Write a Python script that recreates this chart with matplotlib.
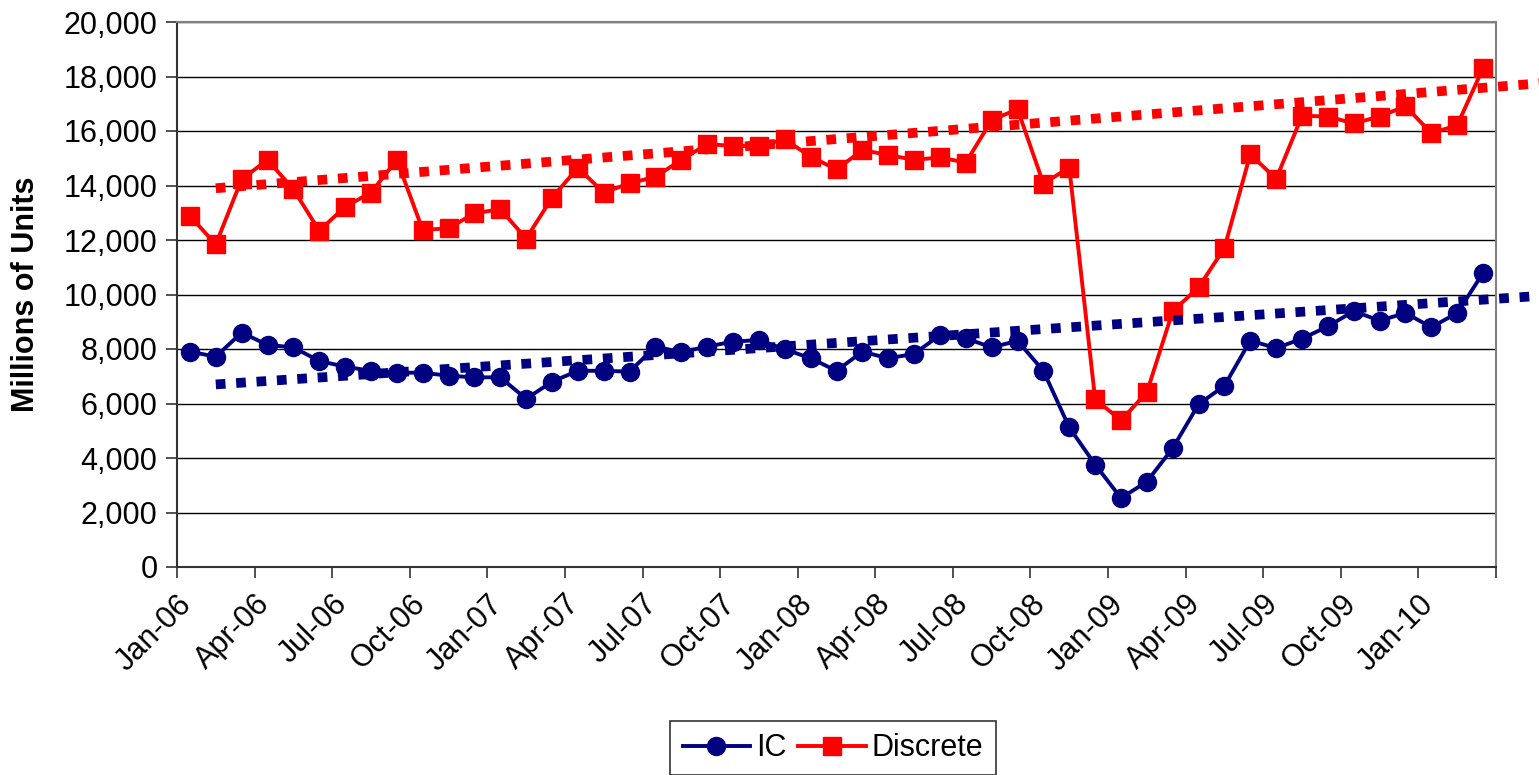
import numpy as np
import pandas as pd
import matplotlib
matplotlib.use("Agg")
import matplotlib.pyplot as plt
from matplotlib.ticker import FuncFormatter

plt.rcParams['font.family'] = ['Liberation Sans', 'DejaVu Sans']

# monthly unit shipments, Jan-06 .. Mar-10 (millions of units)
months = pd.date_range("2006-01-01", periods=51, freq="MS")

ic = [7900, 7720, 8600, 8150, 8060, 7560, 7350, 7200, 7130, 7130, 7020, 6960,
      6960, 6170, 6800, 7200, 7200, 7170, 8090, 7880, 8090, 8270, 8330, 7990,
      7660, 7200, 7900, 7660, 7820, 8510, 8390, 8060, 8300, 7200, 5120, 3760,
      2530, 3130, 4360, 5970, 6650, 8310, 8030, 8380, 8830, 9390, 9040, 9320,
      8800, 9320, 10790]

discrete = [12880, 11840, 14230, 14940, 13860, 12340, 13220, 13740, 14940, 12370, 12430, 12980,
            13130, 12050, 13550, 14650, 13740, 14080, 14320, 14940, 15520, 15450, 15450, 15690,
            15060, 14590, 15300, 15120, 14940, 15030, 14840, 16400, 16800, 14070, 14660, 6160,
            5380, 6410, 9390, 10260, 11710, 15150, 14240, 16560, 16530, 16280, 16530, 16910,
            15920, 16210, 18310]

# trendline end points (month index, value), projected forward
trend_x = [1, 52.2]
ic_trend = [6700, 9950]
discrete_trend = [13900, 17750]

x = np.arange(len(months))

fig = plt.figure(figsize=(15.39, 7.75), dpi=100)
ax = fig.add_axes([177/1539, 1 - 567/775, (1496 - 177)/1539, (567 - 22)/775])

navy = "#000080"
red = "#FF0000"

ax.plot(x, ic, color=navy, lw=2.8, marker="o", ms=13, label="IC", zorder=3)
ax.plot(x, discrete, color=red, lw=2.8, marker="s", ms=13, label="Discrete", zorder=3)

for vals, c in [(ic_trend, navy), (discrete_trend, red)]:
    k = (vals[1] - vals[0]) / (trend_x[1] - trend_x[0])
    xt = np.array([trend_x[0], 54])
    ax.plot(xt, vals[0] + k * (xt - trend_x[0]), color=c, lw=7, ls=(0, (1, 1.1)),
            dash_capstyle="butt", clip_on=False, zorder=4)

ax.set_xlim(-0.5, 50.5)
ax.set_ylim(0, 20000)
ax.set_yticks(np.arange(0, 20001, 2000))
ax.yaxis.set_major_formatter(FuncFormatter(lambda v, p: f"{v:,.0f}"))
ax.grid(axis="y", color="black", lw=1.0)
ax.set_axisbelow(True)

ticks = np.arange(-0.5, 51, 3)
ax.set_xticks(ticks)
labels = [months[int(t + 0.5)].strftime("%b-%y") if t + 0.5 < len(months) else "" for t in ticks]
ax.set_xticklabels(labels, rotation=45, ha="right", rotation_mode="anchor")

ax.tick_params(axis="both", labelsize=22, length=8, width=1.2, color="#333333")
ax.tick_params(axis="x", pad=8)
ax.tick_params(axis="y", pad=6)

for s in ["top", "right"]:
    ax.spines[s].set_color("#808080")
    ax.spines[s].set_linewidth(1.5)
for s in ["left", "bottom"]:
    ax.spines[s].set_color("#333333")
    ax.spines[s].set_linewidth(1.5)

ax.set_ylabel("Millions of Units", fontsize=22, fontweight="bold", labelpad=16)

leg = fig.legend(loc="upper center", bbox_to_anchor=(833/1539, 1 - 721/775),
                 ncol=2, fontsize=22, frameon=True, fancybox=False,
                 edgecolor="black", handlelength=2.2, handletextpad=0.2,
                 columnspacing=0.4, borderpad=0.4, borderaxespad=0)
leg.get_frame().set_linewidth(1.2)

fig.savefig("out.png", dpi=100)
